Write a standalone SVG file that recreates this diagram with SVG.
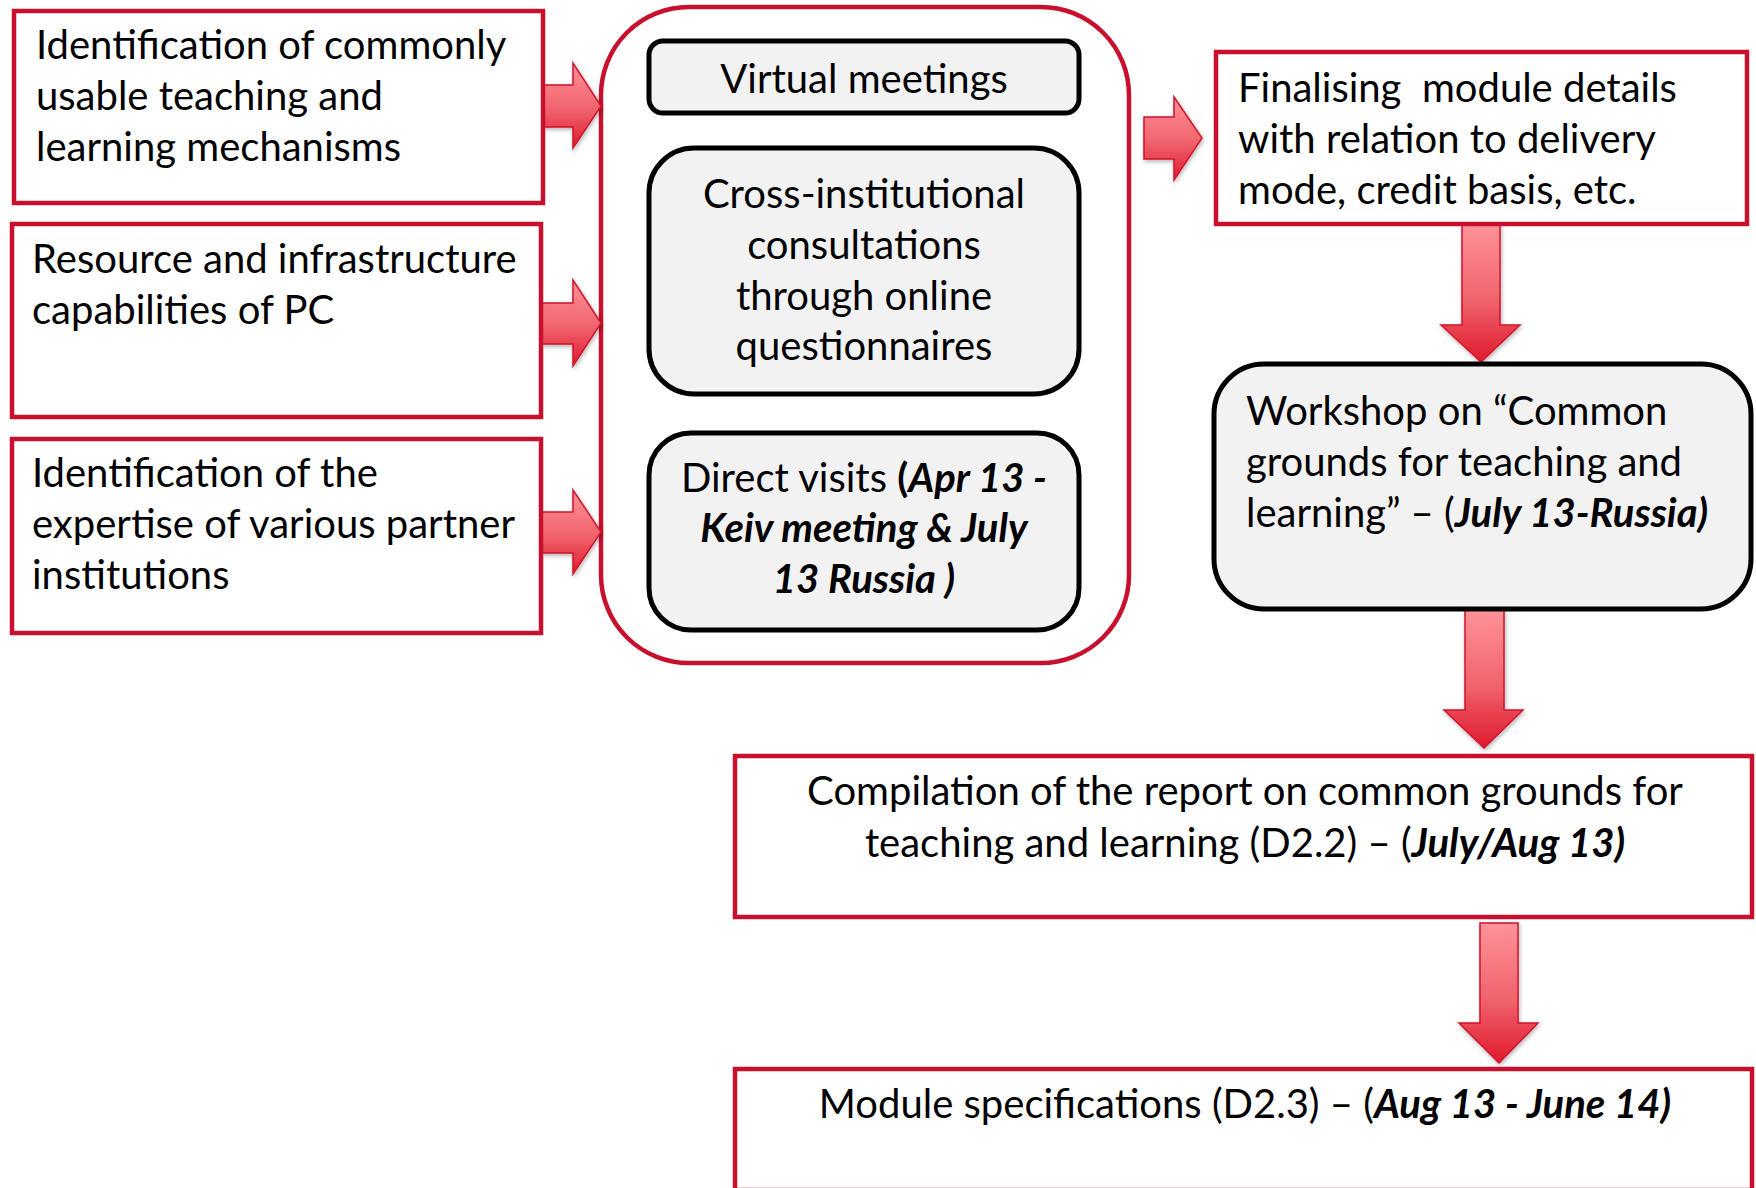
<svg xmlns="http://www.w3.org/2000/svg" width="1756" height="1188" viewBox="0 0 1756 1188">
<defs>
  <linearGradient id="gv" x1="0" y1="0" x2="0" y2="1">
    <stop offset="0" stop-color="#FF9299"/>
    <stop offset="0.55" stop-color="#F0636C"/>
    <stop offset="1" stop-color="#E01A2C"/>
  </linearGradient>
  <filter id="sh" x="-20%" y="-20%" width="140%" height="140%">
    <feDropShadow dx="1" dy="2" stdDeviation="2" flood-color="#000" flood-opacity="0.3"/>
  </filter>
  <style>
    .rbox{fill:#fff;stroke:#C8102E;stroke-width:4.5}
    .gbox{fill:#F2F2F2;stroke:#000;stroke-width:5}
    .arr{fill:url(#gv);stroke:#D0142E;stroke-width:1.5;filter:url(#sh)}
    text{font-family:Lato,"Open Sans","Liberation Sans",sans-serif;font-size:40px;fill:#000}
    .c{text-anchor:middle}
    .bi{font-weight:bold;font-style:italic}
    .b{font-weight:bold}
  </style>
</defs>
<rect width="1756" height="1188" fill="#fff"/>

<g id="outer">
  <rect x="601" y="7" width="528" height="656" rx="88" ry="88" class="rbox"/>
</g>

<g id="connectors">
  <path class="arr" d="M543,85 H573 V63 L601,106 L573,148 V127 H543 Z"/>
  <path class="arr" d="M541,303 H573 V280 L601,323 L573,366 V344 H541 Z"/>
  <path class="arr" d="M541,512 H573 V490 L601,532 L573,574 V553 H541 Z"/>
  <path class="arr" d="M1144,117 H1174 V97 L1202,138 L1174,180 V159 H1144 Z"/>
  <path class="arr" d="M1462,225 H1500 V325 H1520 L1481,362 L1441,325 H1462 Z"/>
  <path class="arr" d="M1465,610 H1504 V710 H1523 L1484,748 L1444,710 H1465 Z"/>
  <path class="arr" d="M1480,923 H1518 V1023 H1538 L1499,1063 L1459,1023 H1480 Z"/>
</g>

<g id="n1">
  <rect x="14" y="11" width="529" height="192" class="rbox"/>
  <text x="36" y="59">Identification of commonly</text>
  <text x="36" y="110">usable teaching and</text>
  <text x="36" y="161">learning mechanisms</text>
</g>
<g id="n2">
  <rect x="12" y="224" width="529" height="193" class="rbox"/>
  <text x="32" y="273">Resource and infrastructure</text>
  <text x="32" y="324">capabilities of PC</text>
</g>
<g id="n3">
  <rect x="12" y="439" width="529" height="194" class="rbox"/>
  <text x="32" y="487">Identification of the</text>
  <text x="32" y="538">expertise of various partner</text>
  <text x="32" y="589">institutions</text>
</g>

<g id="n4">
  <rect x="649" y="41" width="430" height="72" rx="14" ry="14" class="gbox"/>
  <text x="864" y="93" class="c">Virtual meetings</text>
</g>
<g id="n5">
  <rect x="649" y="148" width="430" height="246" rx="45" ry="45" class="gbox"/>
  <text x="864" y="208" class="c">Cross-institutional</text>
  <text x="864" y="259" class="c">consultations</text>
  <text x="864" y="310" class="c">through online</text>
  <text x="864" y="360" class="c">questionnaires</text>
</g>
<g id="n6">
  <rect x="649" y="433" width="430" height="197" rx="42" ry="42" class="gbox"/>
  <text x="864" y="492" class="c">Direct visits <tspan class="b">(</tspan><tspan class="bi">Apr 13 -</tspan></text>
  <text x="864" y="542" class="c bi">Keiv meeting &amp; July</text>
  <text x="864" y="593" class="c bi">13 Russia )</text>
</g>

<g id="n7">
  <rect x="1216" y="52" width="531" height="172" class="rbox"/>
  <text x="1238" y="102" xml:space="preserve">Finalising  module details</text>
  <text x="1238" y="153">with relation to delivery</text>
  <text x="1238" y="204">mode, credit basis, etc.</text>
</g>
<g id="n8">
  <rect x="1214" y="364" width="537" height="245" rx="50" ry="50" class="gbox"/>
  <text x="1246" y="425">Workshop on “Common</text>
  <text x="1246" y="476">grounds for teaching and</text>
  <text x="1246" y="527">learning” – (<tspan class="bi">July 13-Russia)</tspan></text>
</g>
<g id="n9">
  <rect x="735" y="756" width="1017" height="161" class="rbox"/>
  <text x="1245" y="805" class="c">Compilation of the report on common grounds for</text>
  <text x="1245" y="857" class="c">teaching and learning (D2.2) – (<tspan class="bi">July/Aug 13)</tspan></text>
</g>
<g id="n10">
  <rect x="735" y="1069" width="1017" height="121" class="rbox"/>
  <text x="1245" y="1118" class="c">Module specifications (D2.3) – (<tspan class="bi">Aug 13 - June 14)</tspan></text>
</g>
</svg>
